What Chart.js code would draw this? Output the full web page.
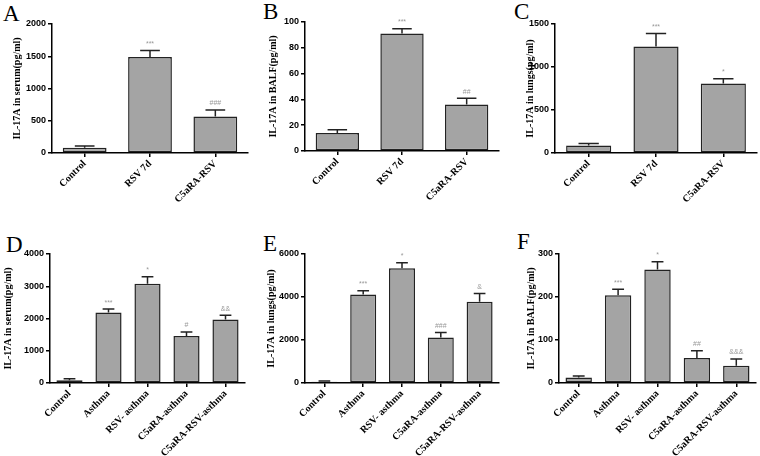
<!DOCTYPE html>
<html>
<head>
<meta charset="utf-8">
<script src="https://cdn.jsdelivr.net/npm/chart.js@4/dist/chart.umd.min.js"></script>
<style>
  body { margin: 0; background: #fff; width: 760px; height: 456px; position: relative; overflow: hidden; }
  canvas { position: absolute; }
  .tag { position: absolute; font-family: "Liberation Serif", serif; font-size: 23px; line-height: 1; color: #000; }
</style>
</head>
<body>
<div class="tag" style="left:3px;top:2px">A</div>
<div class="tag" style="left:263px;top:0px">B</div>
<div class="tag" style="left:514px;top:0px">C</div>
<div class="tag" style="left:6px;top:233px">D</div>
<div class="tag" style="left:263px;top:232px">E</div>
<div class="tag" style="left:517px;top:230px">F</div>

<canvas id="cA" width="250" height="215" style="left:0;top:0"></canvas>
<canvas id="cB" width="250" height="215" style="left:250px;top:0"></canvas>
<canvas id="cC" width="260" height="215" style="left:500px;top:0"></canvas>
<canvas id="cD" width="250" height="241" style="left:0;top:215px"></canvas>
<canvas id="cE" width="250" height="241" style="left:250px;top:215px"></canvas>
<canvas id="cF" width="260" height="241" style="left:500px;top:215px"></canvas>

<script>
// === Groups ===
const topGroups = ["Control", "RSV 7d", "C5aRA-RSV"];
const bottomGroups = ["Control", "Asthma", "RSV- asthma", "C5aRA-asthma", "C5aRA-RSV-asthma"];

// === A: serum, RSV ===
const serumRsv = [80, 1490, 565];
const serumRsvSem = [28, 98, 102];
const serumRsvSig = ["", "***", "###"];

// === B: BALF, RSV ===
const balfRsv = [14, 91, 36];
const balfRsvSem = [2.5, 3.8, 4.8];
const balfRsvSig = ["", "***", "##"];

// === C: lungs, RSV ===
const lungsRsv = [88, 1237, 807];
const lungsRsvSem = [22, 152, 55];
const lungsRsvSig = ["", "***", "*"];

// === D: serum, asthma ===
const serumAsthma = [85, 2186, 3078, 1461, 1969];
const serumAsthmaSem = [45, 105, 215, 120, 135];
const serumAsthmaSig = ["", "***", "*", "#", "&&"];

// === E: lungs, asthma ===
const lungsAsthma = [62, 4119, 5332, 2114, 3777];
const lungsAsthmaSem = [30, 170, 265, 235, 390];
const lungsAsthmaSig = ["", "***", "*", "###", "&"];

// === F: BALF, asthma ===
const balfAsthma = [13, 204, 264, 58, 40];
const balfAsthmaSem = [3, 14, 18, 17, 16];
const balfAsthmaSig = ["", "***", "*", "##", "&&&"];

// error bars + significance marks, placed through the y scale
const errorBars = {
  id: "errorBars",
  afterDatasetsDraw(chart) {
    const ctx = chart.ctx;
    const y = chart.scales.y;
    const ds = chart.data.datasets[0];
    const meta = chart.getDatasetMeta(0);
    ctx.save();
    meta.data.forEach((bar, i) => {
      const top = y.getPixelForValue(ds.data[i] + ds.sem[i]);
      const cap = bar.width * 0.45;
      ctx.strokeStyle = "#222";
      ctx.lineWidth = 1.5;
      ctx.beginPath();
      ctx.moveTo(bar.x, bar.y);
      ctx.lineTo(bar.x, top);
      ctx.moveTo(bar.x - cap / 2, top);
      ctx.lineTo(bar.x + cap / 2, top);
      ctx.stroke();
      if (ds.sig[i]) {
        ctx.fillStyle = "#999";
        ctx.font = "7px 'Liberation Sans'";
        ctx.textAlign = "center";
        ctx.textBaseline = "bottom";
        ctx.fillText(ds.sig[i], bar.x, top - 3);
      }
    });
    ctx.restore();
  },
};

function makePanel(id, labels, values, sem, sig, yMax, yStep, yTitle, box) {
  return new Chart(document.getElementById(id), {
    type: "bar",
    data: {
      labels,
      datasets: [
        {
          data: values,
          sem,
          sig,
          backgroundColor: "#a4a4a4",
          borderColor: "#222",
          borderWidth: 1.5,
          borderSkipped: false,
          categoryPercentage: 1,
          barPercentage: 0.67,
        },
      ],
    },
    options: {
      responsive: false,
      animation: false,
      layout: { padding: { top: box.top, right: box.right, left: 0, bottom: 0 } },
      plugins: { legend: { display: false }, tooltip: { enabled: false } },
      scales: {
        x: {
          grid: { display: true, drawOnChartArea: false, offset: false, tickLength: 4, color: "#000", lineWidth: 1.5 },
          border: { color: "#000", width: 1.5 },
          ticks: {
            autoSkip: false,
            minRotation: 45,
            maxRotation: 45,
            padding: 1,
            color: "#000",
            font: { family: "Liberation Serif", weight: "bold", size: 10 },
          },
          afterFit: (s) => { s.height = box.xH; },
        },
        y: {
          min: 0,
          max: yMax,
          ticks: {
            stepSize: yStep,
            padding: 2,
            color: "#000",
            font: { family: "Liberation Sans", weight: "bold", size: 9 },
            callback: (v) => String(v),
          },
          grid: { drawOnChartArea: false, tickLength: 4, color: "#000", lineWidth: 1.5 },
          border: { color: "#000", width: 1.5 },
          title: {
            display: true,
            text: yTitle,
            color: "#000",
            font: { family: "Liberation Serif", weight: "bold", size: 10 },
            padding: { top: box.titlePad, bottom: 0 },
          },
          afterFit: (s) => { s.width = box.axisW; },
        },
      },
    },
    plugins: [errorBars],
  });
}

makePanel("cA", topGroups, serumRsv, serumRsvSem, serumRsvSig, 2000, 500,
  "IL-17A in serum(pg/ml)", { top: 24, right: 2, xH: 62, axisW: 52, titlePad: 11 });
makePanel("cB", topGroups, balfRsv, balfRsvSem, balfRsvSig, 100, 20,
  "IL-17A in BALF(pg/ml)", { top: 22, right: 1, xH: 64, axisW: 55, titlePad: 17 });
makePanel("cC", topGroups, lungsRsv, lungsRsvSem, lungsRsvSig, 1500, 500,
  "IL-17A in lungs(pg/ml)", { top: 24, right: 3, xH: 62, axisW: 55, titlePad: 24 });
makePanel("cD", bottomGroups, serumAsthma, serumAsthmaSem, serumAsthmaSig, 4000, 1000,
  "IL-17A in serum(pg/ml)", { top: 39, right: 5, xH: 73, axisW: 50, titlePad: 2.5 });
makePanel("cE", bottomGroups, lungsAsthma, lungsAsthmaSem, lungsAsthmaSig, 6000, 2000,
  "IL-17A in lungs(pg/ml)", { top: 39, right: 1, xH: 73, axisW: 55, titlePad: 15 });
makePanel("cF", bottomGroups, balfAsthma, balfAsthmaSem, balfAsthmaSig, 300, 100,
  "IL-17A in BALF(pg/ml)", { top: 39, right: 4, xH: 73, axisW: 59, titlePad: 25 });
</script>
</body>
</html>
